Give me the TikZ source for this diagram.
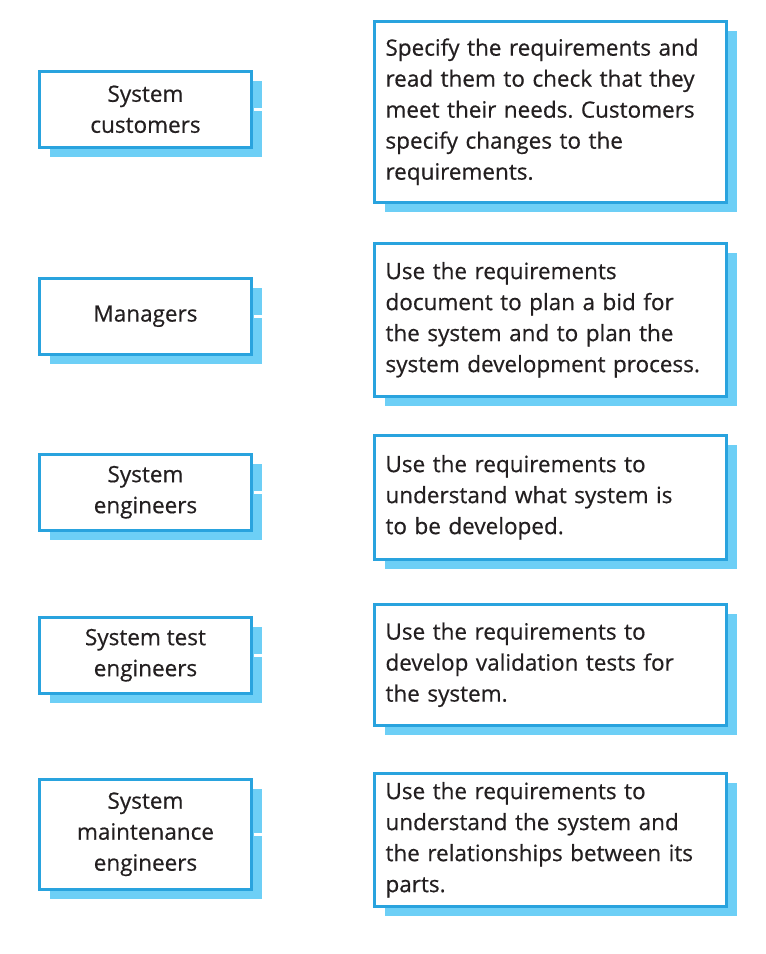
\documentclass[tikz,border=0pt]{standalone}
\usepackage{fontspec}
\newfontfamily\boxfont{Open Sans}[FakeBold=0.5]
\usetikzlibrary{shadows}
\definecolor{EdgeBlue}{RGB}{41,163,222}
\definecolor{ShadeBlue}{RGB}{109,207,246}
\definecolor{InkGrey}{RGB}{35,31,32}
\frenchspacing

\begin{document}
\begin{tikzpicture}[
    x=1pt,y=-1pt,
    box/.style={draw=EdgeBlue,fill=white,line width=2.5pt,text=InkGrey,
      drop shadow={shadow xshift=10pt,shadow yshift=-10pt,fill=ShadeBlue,opacity=1},
      font=\boxfont\fontsize{22.5}{31}\selectfont,anchor=north west},
    role/.style={box,minimum width=212pt,minimum height=76pt,align=center,inner sep=0pt},
    task/.style={box,text width=330pt,align=left,inner xsep=11pt,inner ysep=0pt},
    link/.style={white,line width=3pt,shorten <=1.5pt,shorten >=1.5pt}
  ]
    \useasboundingbox (0,0) rectangle (766,954);

    \node[role] (cust) at (38.25,70) {System\\customers};
    \node[role] (mgr) at (38.25,277) {Managers};
    \node[role] (syseng) at (38.25,453) {System\\engineers};
    \node[role] (testeng) at (38.25,616) {System test\\engineers};
    \node[role,minimum height=110pt] (maint) at (38.25,778) {System\\maintenance\\engineers};

    \node[task,minimum height=181pt] (custuse) at (373.25,20)
      {Specify the requirements and\\read them to check that they\\meet their needs. Customers\\specify changes to the\\requirements.};
    \node[task,minimum height=153pt] (mgruse) at (373.25,242)
      {Use the requirements\\document to plan a bid for\\the system and to plan the\\system development process.};
    \node[task,minimum height=124pt] (sysenguse) at (373.25,434)
      {Use the requirements to\\understand what system is\\to be developed.};
    \node[task,minimum height=121pt] (testenguse) at (373.25,603)
      {Use the requirements to\\develop validation tests for\\the system.};
    \node[task,minimum height=133pt] (maintuse) at (373.25,772)
      {Use the requirements to\\understand the system and\\the relationships between its\\parts.};

    \draw[link] (cust.east) -- (cust.east -| custuse.west);
    \draw[link] (mgr.east) -- (mgr.east -| mgruse.west);
    \draw[link] (syseng.east) -- (syseng.east -| sysenguse.west);
    \draw[link] (testeng.east) -- (testeng.east -| testenguse.west);
    \draw[link] (maint.east) -- (maint.east -| maintuse.west);
  \end{tikzpicture}
\end{document}
